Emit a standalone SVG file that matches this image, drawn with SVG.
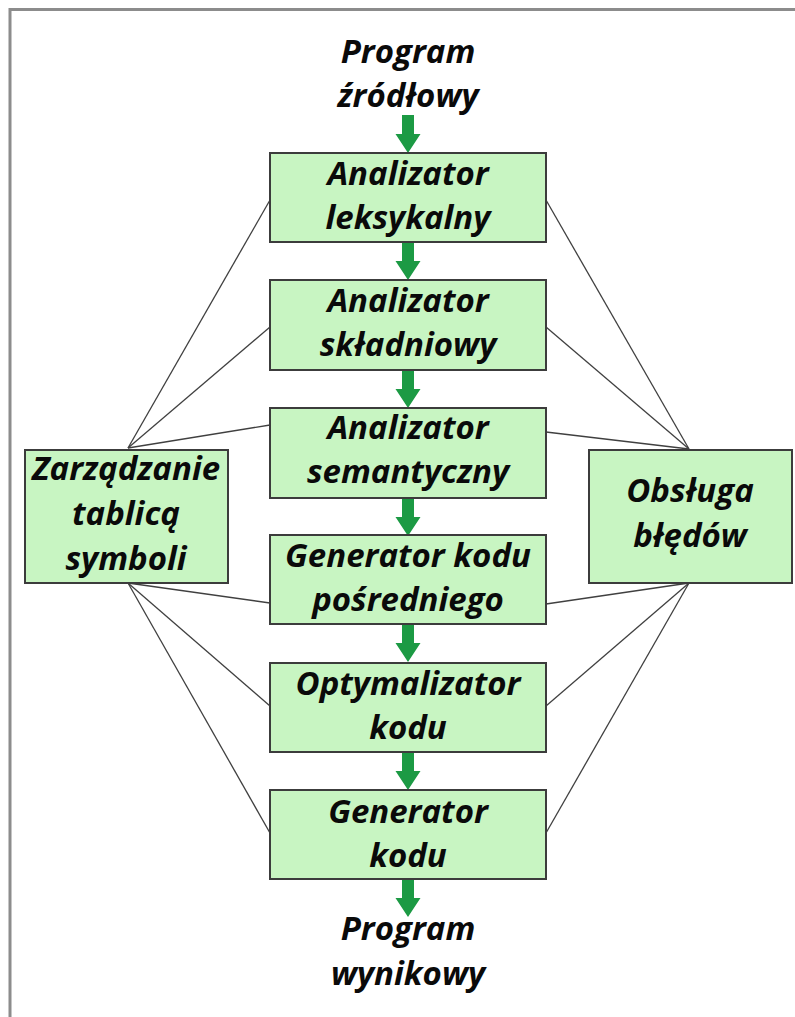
<svg xmlns="http://www.w3.org/2000/svg" width="795" height="1017" viewBox="0 0 795 1017">
<defs>
<style>
.box{fill:#c8f5c2;stroke:#3c3c3c;stroke-width:2}
.t{font-family:"Open Sans","Liberation Sans",sans-serif;font-weight:bold;font-style:italic;font-size:33px;fill:#0a0a0a;text-anchor:middle}
.ln{stroke:#404040;stroke-width:1.3;fill:none}
.arr{fill:#1c9a44}
.frame{stroke:#8c8c8c;stroke-width:3;fill:none}
</style>
<path id="arrow" class="arr" d="M-6,0 H6 V19 H12.5 L0,38 L-12.5,19 H-6 Z"/>
</defs>
<rect width="795" height="1017" fill="#ffffff"/>
<path class="frame" d="M10,1017 V9.5 H795"/>

<g id="connectors">
<line class="ln" x1="128" y1="448" x2="270" y2="200"/>
<line class="ln" x1="128" y1="448" x2="270" y2="327"/>
<line class="ln" x1="128" y1="448" x2="270" y2="425"/>
<line class="ln" x1="128" y1="583" x2="270" y2="603"/>
<line class="ln" x1="128" y1="583" x2="270" y2="706"/>
<line class="ln" x1="128" y1="583" x2="270" y2="833"/>
<line class="ln" x1="689" y1="449" x2="546" y2="200"/>
<line class="ln" x1="689" y1="449" x2="546" y2="327"/>
<line class="ln" x1="689" y1="449" x2="546" y2="432"/>
<line class="ln" x1="689" y1="583" x2="546" y2="604"/>
<line class="ln" x1="689" y1="583" x2="546" y2="706"/>
<line class="ln" x1="689" y1="583" x2="546" y2="833"/>
<use href="#arrow" x="408" y="115"/>
<use href="#arrow" x="408" y="242"/>
<use href="#arrow" x="408" y="370"/>
<use href="#arrow" x="408" y="498"/>
<use href="#arrow" x="408" y="624"/>
<use href="#arrow" x="408" y="752"/>
<use href="#arrow" x="408" y="879"/>
</g>

<g id="src">
<text class="t" x="408" y="63">Program</text>
<text class="t" x="408" y="107">źródłowy</text>
</g>
<g id="lex">
<rect class="box" x="270" y="153" width="276" height="89"/>
<text class="t" x="408" y="185">Analizator</text>
<text class="t" x="408" y="229">leksykalny</text>
</g>
<g id="syn">
<rect class="box" x="270" y="280" width="276" height="90"/>
<text class="t" x="408" y="312">Analizator</text>
<text class="t" x="408" y="356">składniowy</text>
</g>
<g id="sem">
<rect class="box" x="270" y="408" width="276" height="90"/>
<text class="t" x="408" y="439">Analizator</text>
<text class="t" x="408" y="483">semantyczny</text>
</g>
<g id="gen-mid">
<rect class="box" x="270" y="535" width="276" height="89"/>
<text class="t" x="408" y="567">Generator kodu</text>
<text class="t" x="408" y="611">pośredniego</text>
</g>
<g id="opt">
<rect class="box" x="270" y="663" width="276" height="89"/>
<text class="t" x="408" y="695">Optymalizator</text>
<text class="t" x="408" y="739">kodu</text>
</g>
<g id="gen">
<rect class="box" x="270" y="790" width="276" height="89"/>
<text class="t" x="408" y="823">Generator</text>
<text class="t" x="408" y="867">kodu</text>
</g>
<g id="out">
<text class="t" x="408" y="940">Program</text>
<text class="t" x="408" y="985">wynikowy</text>
</g>
<g id="symtab">
<rect class="box" x="25" y="450" width="203" height="133"/>
<text class="t" x="126" y="480">Zarządzanie</text>
<text class="t" x="126" y="525">tablicą</text>
<text class="t" x="126" y="570">symboli</text>
</g>
<g id="errors">
<rect class="box" x="589" y="450" width="203" height="133"/>
<text class="t" x="690" y="502">Obsługa</text>
<text class="t" x="690" y="547">błędów</text>
</g>
</svg>
